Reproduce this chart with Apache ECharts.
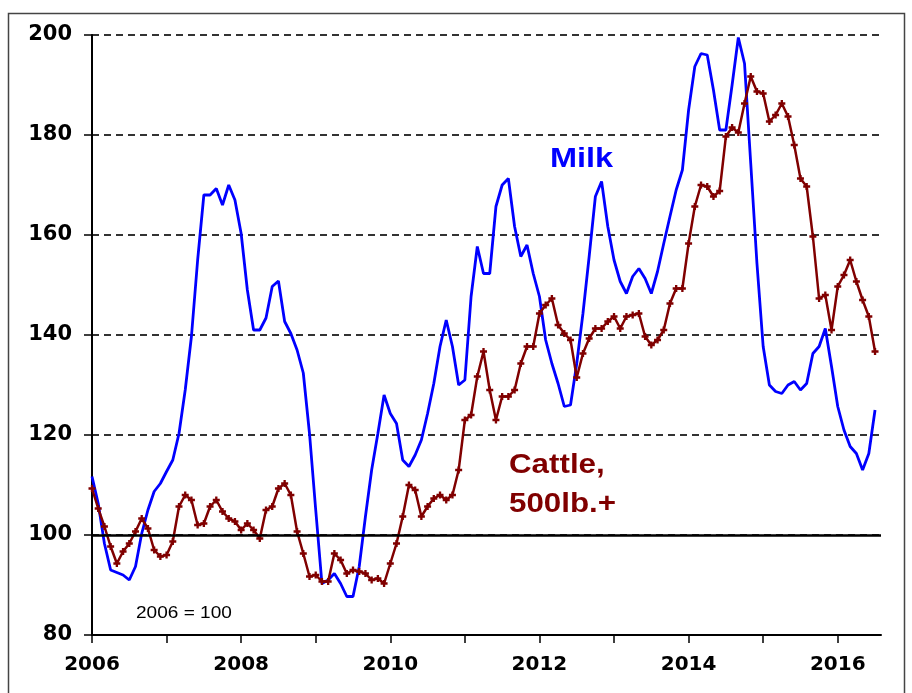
<!DOCTYPE html>
<html>
<head>
<meta charset="utf-8">
<script src="https://cdn.jsdelivr.net/npm/echarts@6/dist/echarts.min.js"></script>
<style>
html,body{margin:0;padding:0;background:#fff;}
#chart{width:912px;height:693px;}
</style>
</head>
<body>
<div id="chart"></div>
<script>
// Monthly index values (2006 = 100), Jan 2006 .. Jul 2016
var startYear = 2006;
var milk = [
111.7,106.3,98.3,93,92.5,92,91,93.7,100.3,105,108.7,110.3,
112.7,115,120.3,129,139.7,155,168,168,169.3,166,170,167,
160.3,149,141,141,143.4,149.7,150.8,142.7,140.3,137,132.4,120.3,
105,90.3,91,92.3,90.3,87.7,87.7,93.7,103.7,113,120.3,128,
124.3,122.3,115,113.7,116,119,124.3,130.3,137.7,143,137.7,130,
131,147.7,157.7,152.3,152.3,165.7,170,171.3,161.7,155.7,158,152.3,
147.7,139,134.3,130.3,125.7,126,134.3,144.3,155.7,167.7,170.7,161.7,
155,150.7,148.3,151.7,153.3,151.3,148.3,152.7,158.3,163.7,169,173,
185,193.7,196.3,196,189,181,181,190,199.5,194.3,174.3,154.3,
137.7,130,128.7,128.3,130,130.7,129,130.3,136.3,137.7,141.3,133.7,
125.7,121,117.7,116.3,113,116.3,125
];
var cattle = [
109.3,105.3,101.7,97.7,94.3,96.7,98.3,100.7,103.3,101.3,97,95.7,
96,98.7,105.7,108,107,102,102.3,105.7,107,104.7,103.3,102.7,
101,102.3,101,99.3,105,105.7,109.3,110.3,108,100.7,96.3,91.7,
92,90.7,90.7,96.3,95,92.3,93,92.7,92.3,91,91.3,90.3,
94.3,98.3,103.7,110,109,103.7,105.7,107.3,108,107,108,113,
123,124,131.7,136.7,129,123,127.7,127.7,129,134.3,137.7,137.7,
144.3,146,147.3,142,140.3,139,131.5,136.3,139.3,141.3,141.3,142.7,
143.7,141.3,143.7,144,144.3,139.7,138,139,141,146.3,149.3,149.3,
158.3,165.7,170,169.7,167.7,168.8,179.7,181.5,180.5,186.3,191.7,188.7,
188.3,182.7,184,186.3,183.7,178,171.3,169.7,159.7,147.3,148,141,
149.7,152,155,150.7,147,143.7,136.7
];
var yTicks = [80, 100, 120, 140, 160, 180, 200];
var xLabelYears = [2006, 2008, 2010, 2012, 2014, 2016];

function toPairs(arr){
  return arr.map(function(v,i){ return [startYear + i/12, v]; });
}

var chart = echarts.init(document.getElementById('chart'), null, {renderer:'canvas'});
var FONT = 'Liberation Sans, Arial, sans-serif';
var TICKFONT = 'DejaVu Sans, Liberation Sans, sans-serif';
var plusPath = 'path://M2,0 L4,0 L4,2 L6,2 L6,4 L4,4 L4,6 L2,6 L2,4 L0,4 L0,2 L2,2 Z';
var SX = 1.16;

chart.setOption({
  animation:false,
  backgroundColor:'#fff',
  grid:{left:92, right:31, top:35, bottom:58, containLabel:false},
  graphic:[
    {type:'rect', shape:{x:8.5,y:13.5,width:896,height:700}, style:{fill:'none', stroke:'#444', lineWidth:1.5}, silent:true, z:0},
    {type:'text', x:550, y:145, scaleX:SX, style:{text:'Milk', fill:'#0000ff', font:'bold 28px ' + FONT}, z:10},
    {type:'text', x:509, y:452, scaleX:SX, style:{text:'Cattle,', fill:'#800000', font:'bold 27px ' + FONT}, z:10},
    {type:'text', x:509, y:491, scaleX:SX, style:{text:'500lb.+', fill:'#800000', font:'bold 27px ' + FONT}, z:10},
    {type:'text', x:136, y:605, scaleX:1.12, style:{text:'2006 = 100', fill:'#000', font:'17px ' + FONT}, z:10}
  ],
  xAxis:{
    type:'value', min:2006, max:2016.58, interval:1,
    axisLine:{show:true, onZero:false, lineStyle:{color:'#000', width:2}},
    axisTick:{show:true, length:8, lineStyle:{color:'#000', width:1.5}},
    axisLabel:{
      color:'#000', fontFamily:TICKFONT, fontWeight:'bold', fontSize:20, margin:20,
      showMaxLabel:false,
      formatter:function(v){ var y=Math.round(v); return xLabelYears.indexOf(y)>=0 && Math.abs(v-y)<1e-6 ? String(y) : ''; }
    },
    splitLine:{show:false}
  },
  yAxis:{
    type:'value', min:80, max:200, interval:20,
    axisLine:{show:true, lineStyle:{color:'#000', width:2}},
    axisTick:{show:true, length:8, lineStyle:{color:'#000', width:1.5}},
    axisLabel:{color:'#000', fontFamily:TICKFONT, fontWeight:'bold', fontSize:21, margin:20,
      formatter:function(v){ return yTicks.indexOf(v)>=0 ? String(v) : ''; }},
    splitLine:{show:true, lineStyle:{color:'#333', width:2, type:[7,5]}}
  },
  series:[
    {
      name:'Milk', type:'line', data:toPairs(milk), showSymbol:false, symbol:'none',
      lineStyle:{color:'#0000ff', width:2.8}, z:3,
      markLine:{silent:true, symbol:'none', label:{show:false},
        lineStyle:{color:'#000', width:2.5, type:'solid'}, data:[{yAxis:100}]}
    },
    {
      name:'Cattle', type:'line', data:toPairs(cattle), symbol:plusPath, symbolSize:7, showSymbol:true,
      itemStyle:{color:'#800000'}, lineStyle:{color:'#800000', width:2.5}, z:4
    }
  ]
});
</script>
</body>
</html>
